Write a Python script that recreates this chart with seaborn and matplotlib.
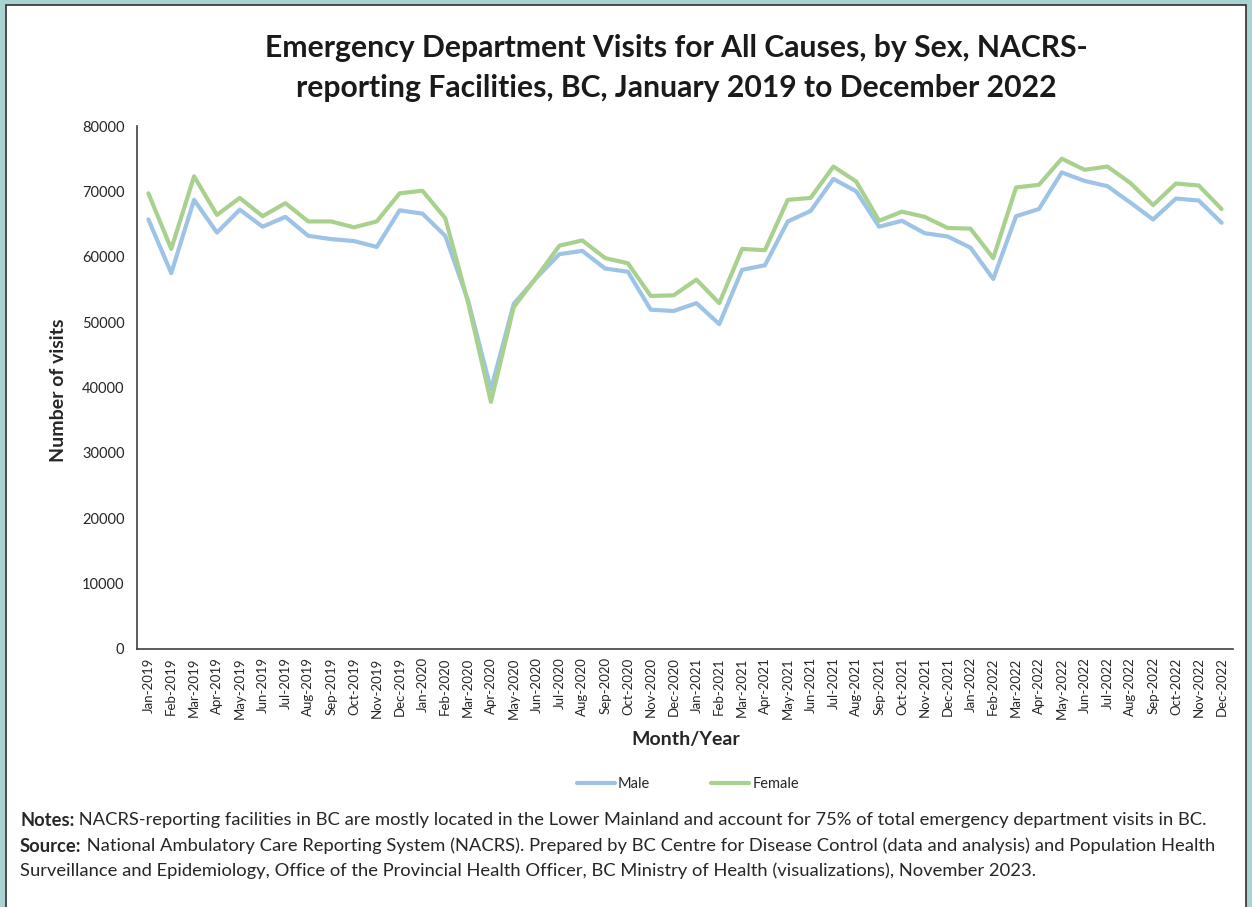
import matplotlib
matplotlib.use("Agg")
import matplotlib.pyplot as plt
import matplotlib.patches as mpatches
import numpy as np
import pandas as pd
import seaborn as sns

# Monthly ED visits, Jan 2019 - Dec 2022
years = ["2019", "2020", "2021", "2022"]
month_names = ["Jan", "Feb", "Mar", "Apr", "May", "Jun",
               "Jul", "Aug", "Sep", "Oct", "Nov", "Dec"]
months = [f"{m}-{y}" for y in years for m in month_names]

male = [
    65700, 57500, 68700, 63700, 67200, 64600, 66100, 63200, 62700, 62400, 61500, 67100,
    66600, 63200, 53300, 39700, 52800, 56800, 60400, 60900, 58200, 57700, 51900, 51700,
    52900, 49700, 58000, 58700, 65400, 67000, 71900, 70000, 64600, 65500, 63600, 63100,
    61400, 56600, 66200, 67300, 72900, 71600, 70800, 68300, 65700, 68900, 68600, 65200,
]
female = [
    69700, 61200, 72300, 66400, 69000, 66200, 68200, 65400, 65400, 64500, 65400, 69700,
    70100, 65900, 53000, 37800, 52300, 56900, 61700, 62500, 59800, 59000, 54000, 54100,
    56500, 52900, 61200, 61000, 68700, 69000, 73800, 71500, 65500, 66900, 66100, 64400,
    64300, 59800, 70600, 71000, 75000, 73300, 73800, 71300, 67900, 71200, 70900, 67300,
]

series_names = ["Male", "Female"]
colors = {"Male": "#9DC3E6", "Female": "#A9D18E"}

df = pd.DataFrame({
    "idx": list(range(len(months))) * 2,
    "visits": male + female,
    "sex": ["Male"] * len(male) + ["Female"] * len(female),
})

sns.set_style("white")
plt.rcParams["font.family"] = ["Lato", "DejaVu Sans"]

fig = plt.figure(figsize=(12.52, 9.07), dpi=100)
fig.patch.set_facecolor("#A9D3D1")
# white panel with thin dark edge inside the teal frame
fig.patches.append(mpatches.Rectangle(
    (6 / 1252, -0.01), 1240 / 1252, 1 - 5 / 907 + 0.01,
    transform=fig.transFigure, facecolor="white", edgecolor="#303030",
    linewidth=1.2, zorder=-10))

ax = fig.add_axes([137 / 1252, 1 - 649 / 907, 1096 / 1252, 523 / 907])
ax.set_zorder(2)
ax.set_facecolor("none")

sns.lineplot(data=df, x="idx", y="visits", hue="sex", hue_order=series_names,
             palette=colors, linewidth=3.0, ax=ax, legend=False)

ax.set_xlim(-0.5, len(months) - 0.5)
ax.set_ylim(0, 80000)
ax.set_yticks(range(0, 80001, 10000))
ax.set_yticklabels([str(v) for v in range(0, 80001, 10000)], fontsize=10.5)
ax.set_xticks(range(len(months)))
ax.set_xticklabels(months, rotation=90, fontsize=9.5)
ax.set_xticks(np.arange(-0.5, len(months), 1), minor=True)
ax.tick_params(axis="x", which="major", length=0, pad=6)
ax.tick_params(axis="x", which="minor", length=5, width=1, color="#404040", direction="out")
ax.tick_params(axis="y", length=5, width=1, color="#404040", direction="out", pad=4)

for side in ["top", "right"]:
    ax.spines[side].set_visible(False)
for side in ["left", "bottom"]:
    ax.spines[side].set_color("#404040")
    ax.spines[side].set_linewidth(1.2)

ax.set_xlabel("")
ax.set_ylabel("")
fig.text(686 / 1252, 1 - 740 / 907, "Month/Year", ha="center", va="center",
         fontsize=14, fontweight="bold")
fig.text(58 / 1252, 1 - 390 / 907, "Number of visits", ha="center", va="center",
         rotation=90, fontsize=14, fontweight="bold")

fig.text(676 / 1252, 1 - 68 / 907,
         "Emergency Department Visits for All Causes, by Sex, NACRS-\n"
         "reporting Facilities, BC, January 2019 to December 2022",
         ha="center", va="center", fontsize=21.7, fontweight="bold",
         linespacing=1.5, color="#1a1a1a")

handles = [plt.Line2D([], [], color=colors[s], linewidth=3.0) for s in series_names]
fig.legend(handles, series_names, loc="center", bbox_to_anchor=(688 / 1252, 1 - 784 / 907),
           ncol=2, frameon=False, fontsize=10.5, handlelength=2.6, handletextpad=0.2,
           columnspacing=4.2)

notes = [
    ("Notes:", " NACRS-reporting facilities in BC are mostly located in the Lower Mainland and account for 75% of total emergency department visits in BC."),
    ("Source:", " National Ambulatory Care Reporting System (NACRS). Prepared by BC Centre for Disease Control (data and analysis) and Population Health"),
    ("", "Surveillance and Epidemiology, Office of the Provincial Health Officer, BC Ministry of Health (visualizations), November 2023."),
]
note_y = [820, 846, 871]
fig.canvas.draw()
for (head, body), y in zip(notes, note_y):
    x1 = 20 / 1252
    if head:
        t = fig.text(x1, 1 - y / 907, head, ha="left", va="center",
                     fontsize=13.2, fontweight="bold")
        bb = t.get_window_extent(renderer=fig.canvas.get_renderer())
        x1 = bb.x1 / fig.bbox.width
    fig.text(x1, 1 - y / 907, body, ha="left", va="center", fontsize=13.2)

fig.savefig("out.png", dpi=100, facecolor=fig.get_facecolor())
